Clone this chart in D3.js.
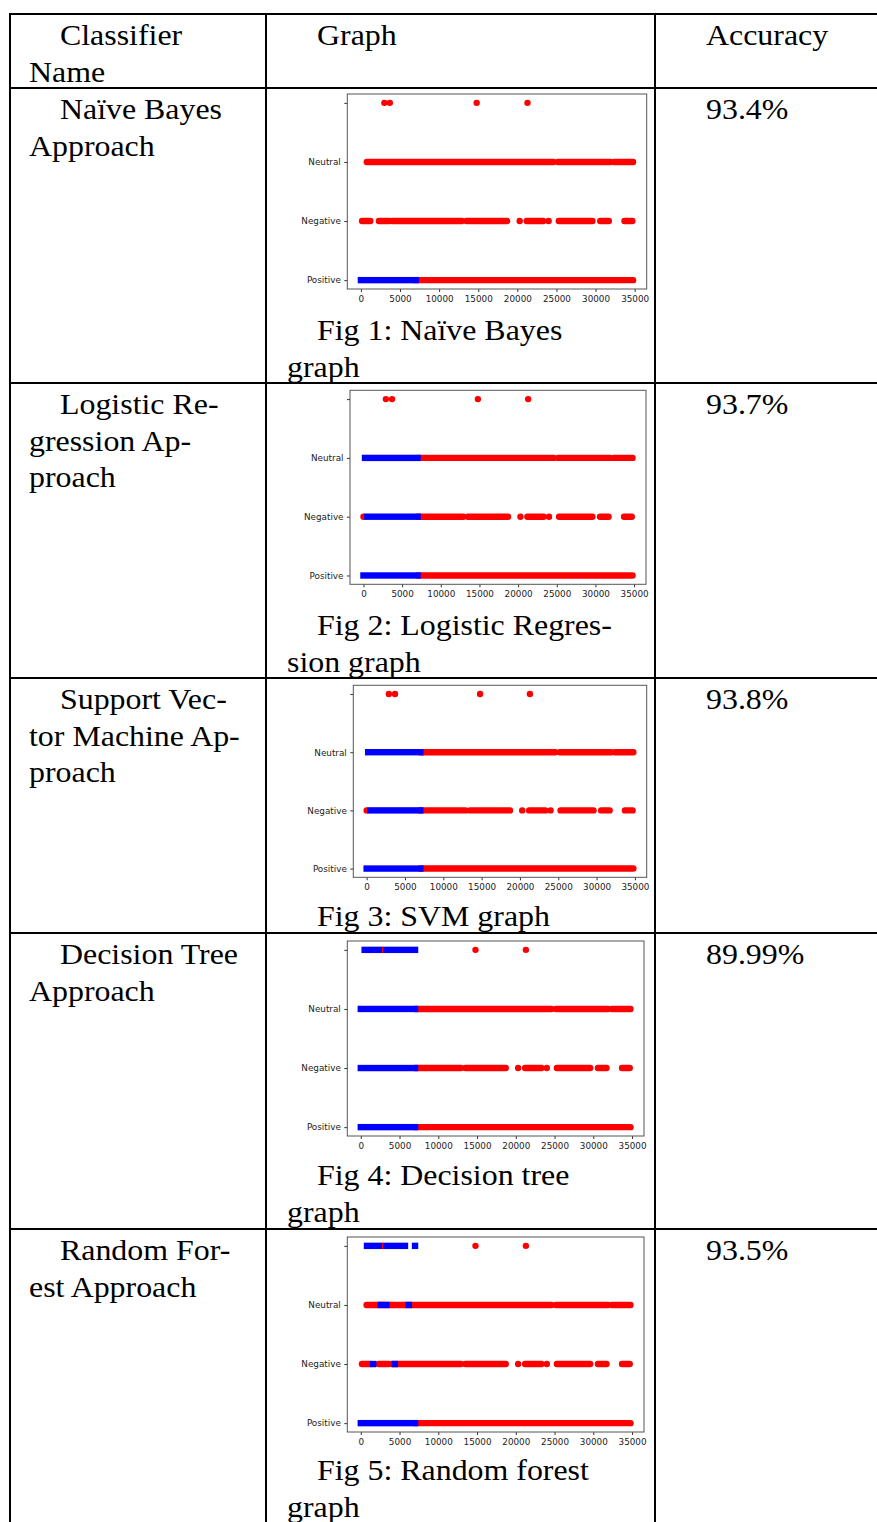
<!DOCTYPE html>
<html>
<head>
<meta charset="utf-8">
<script src="https://cdn.jsdelivr.net/npm/d3@7/dist/d3.min.js"></script>
<style>
  body { margin: 0; background: #fff; }
  svg { display: block; }
</style>
</head>
<body>
<div id="page"></div>
<script>
// ---- table text ----
var headers = ["Classifier|Name", "Graph", "Accuracy"];
var classifierNames = [
  "Naïve Bayes|Approach",
  "Logistic Re-|gression Ap-|proach",
  "Support Vec-|tor Machine Ap-|proach",
  "Decision Tree|Approach",
  "Random For-|est Approach"
];
var captions = [
  "Fig 1: Naïve Bayes|graph",
  "Fig 2: Logistic Regres-|sion graph",
  "Fig 3: SVM graph",
  "Fig 4: Decision tree|graph",
  "Fig 5: Random forest|graph"
];
var accuracies = ["93.4%", "93.7%", "93.8%", "89.99%", "93.5%"];

// ---- chart axes ----
var yCategories = ["Positive", "Negative", "Neutral", ""];
var xTicks = [0, 5000, 10000, 15000, 20000, 25000, 30000, 35000];

// ---- point runs: [category, first x, last x] ----
var nbRed = [
  ["", 3000, 3000], ["", 3700, 3700], ["", 14800, 14800], ["", 21300, 21300],
  ["Neutral", 750, 24600], ["Neutral", 25200, 31900], ["Neutral", 32400, 34800],
  ["Negative", 150, 1200], ["Negative", 2300, 3600], ["Negative", 4000, 12900],
  ["Negative", 13500, 18700], ["Negative", 20300, 20300], ["Negative", 21200, 23300],
  ["Negative", 24000, 24000], ["Negative", 25300, 29600], ["Negative", 30600, 31700],
  ["Negative", 33700, 34700],
  ["Positive", 7000, 34800]
];
var nbBlue = [["Positive", 0, 7000]];

var lrRed = [
  ["", 2900, 2900], ["", 3700, 3700], ["", 14800, 14800], ["", 21300, 21300],
  ["Neutral", 7000, 24600], ["Neutral", 25200, 31900], ["Neutral", 32400, 34800],
  ["Negative", 0, 0], ["Negative", 7000, 12900], ["Negative", 13500, 18700],
  ["Negative", 20300, 20300], ["Negative", 21200, 23300], ["Negative", 24000, 24000],
  ["Negative", 25300, 29600], ["Negative", 30600, 31700], ["Negative", 33700, 34700],
  ["Positive", 7000, 34800]
];
var lrBlue = [["Neutral", 200, 7000], ["Negative", 500, 7000], ["Positive", 0, 7000]];

var svmRed = [
  ["", 2900, 2900], ["", 3700, 3700], ["", 14800, 14800], ["", 21300, 21300],
  ["Neutral", 7000, 24600], ["Neutral", 25200, 31900], ["Neutral", 32400, 34800],
  ["Negative", 0, 0], ["Negative", 7000, 12900], ["Negative", 13500, 18700],
  ["Negative", 20300, 20300], ["Negative", 21200, 23300], ["Negative", 24000, 24000],
  ["Negative", 25300, 29600], ["Negative", 30600, 31700], ["Negative", 33700, 34700],
  ["Positive", 7000, 34800]
];
var svmBlue = [["Neutral", 200, 7000], ["Negative", 500, 7000], ["Positive", 0, 7000]];

var dtRed = [
  ["", 14800, 14800], ["", 21300, 21300],
  ["Neutral", 7000, 24600], ["Neutral", 25200, 31900], ["Neutral", 32400, 34800],
  ["Negative", 7000, 12900], ["Negative", 13500, 18700], ["Negative", 20300, 20300],
  ["Negative", 21200, 23300], ["Negative", 24000, 24000], ["Negative", 25300, 29600],
  ["Negative", 30600, 31700], ["Negative", 33700, 34700],
  ["Positive", 7000, 34800]
];
var dtBlue = [["", 500, 7000], ["Neutral", 0, 7000], ["Negative", 0, 7000], ["Positive", 0, 7000]];
var dtRedOnTop = [["", 2800]];

var rfRed = [
  ["", 14800, 14800], ["", 21300, 21300],
  ["Neutral", 750, 24600], ["Neutral", 25200, 31900], ["Neutral", 32400, 34800],
  ["Negative", 150, 1200], ["Negative", 2300, 3600], ["Negative", 4000, 12900],
  ["Negative", 13500, 18700], ["Negative", 20300, 20300], ["Negative", 21200, 23300],
  ["Negative", 24000, 24000], ["Negative", 25300, 29600], ["Negative", 30600, 31700],
  ["Negative", 33700, 34700],
  ["Positive", 7000, 34800]
];
var rfBlue = [
  ["", 800, 5700], ["", 7000, 7000],
  ["Neutral", 2600, 3300], ["Neutral", 6200, 6200],
  ["Negative", 1600, 1600], ["Negative", 4400, 4400],
  ["Positive", 0, 7000]
];
var rfRedOnTop = [["", 2800]];

var chartData = [
  { red: nbRed, blue: nbBlue, ticks: [] },
  { red: lrRed, blue: lrBlue, ticks: [] },
  { red: svmRed, blue: svmBlue, ticks: [] },
  { red: dtRed, blue: dtBlue, ticks: dtRedOnTop },
  { red: rfRed, blue: rfBlue, ticks: rfRedOnTop }
];

// ---- layout (page pixels) ----
var W = 877, H = 1522;
var colX = [10, 266, 655, 879];
var rowY = [14, 88, 383, 678, 933, 1229];
var frames = [
  { l: 347.3, t: 94,    r: 646.7, b: 289 },
  { l: 350,   t: 390.3, r: 646,   b: 584.3 },
  { l: 353.3, t: 685.3, r: 646.7, b: 877.3 },
  { l: 347.3, t: 941,   r: 644,   b: 1136 },
  { l: 347.3, t: 1237,  r: 644,   b: 1432 }
];
var lineGap = 36.7, firstBase = 31, captionBase = [340, 635, 926, 1185, 1480];
var dotR = 3.2;

var svg = d3.select("#page").append("svg")
    .attr("width", W)
    .attr("height", H);

svg.append("rect").attr("width", W).attr("height", H).attr("fill", "#fff");

function serifLines(x0, x1, base, str) {
  str.split("|").forEach(function (s, i) {
    svg.append("text")
      .attr("transform", "translate(" + (i === 0 ? x0 : x1) + "," + (base + i * lineGap) + ") scale(1.1,1)")
      .attr("font-family", "'Liberation Serif', 'Times New Roman', serif")
      .attr("font-size", "29px")
      .attr("fill", "#000")
      .text(s);
  });
}

// header + rows text
serifLines(60, 29, rowY[0] + firstBase, headers[0]);
serifLines(317, 317, rowY[0] + firstBase, headers[1]);
serifLines(706, 706, rowY[0] + firstBase, headers[2]);
classifierNames.forEach(function (n, i) {
  serifLines(60, 29, rowY[i + 1] + firstBase, n);
  serifLines(706, 706, rowY[i + 1] + firstBase, accuracies[i]);
  serifLines(317, 287, captionBase[i], captions[i]);
});

// charts
frames.forEach(function (f, i) {
  var d = chartData[i];
  var x = d3.scaleLinear().domain([-1740, 36540]).range([f.l, f.r]);
  var y = d3.scaleLinear().domain([-0.15, 3.15]).range([f.b, f.t]);
  var yv = function (c) { return y(yCategories.indexOf(c)); };
  var g = svg.append("g");

  g.selectAll(".red").data(d.red).enter().append("rect")
    .attr("class", "red")
    .attr("x", function (p) { return x(p[1]) - dotR; })
    .attr("y", function (p) { return yv(p[0]) - dotR; })
    .attr("width", function (p) { return x(p[2]) - x(p[1]) + 2 * dotR; })
    .attr("height", 2 * dotR)
    .attr("rx", dotR).attr("ry", dotR)
    .attr("fill", "#ff0000");

  g.selectAll(".blue").data(d.blue).enter().append("rect")
    .attr("class", "blue")
    .attr("x", function (p) { return x(p[1]) - dotR; })
    .attr("y", function (p) { return yv(p[0]) - dotR; })
    .attr("width", function (p) { return x(p[2]) - x(p[1]) + 2 * dotR; })
    .attr("height", 2 * dotR)
    .attr("fill", "#0000ff");

  g.selectAll(".tk").data(d.ticks).enter().append("rect")
    .attr("class", "tk")
    .attr("x", function (p) { return x(p[1]) - 0.5; })
    .attr("y", function (p) { return yv(p[0]) - dotR; })
    .attr("width", 1)
    .attr("height", 2 * dotR)
    .attr("fill", "#ff0000");

  var ax = g.append("g")
    .attr("transform", "translate(0," + f.b + ")")
    .call(d3.axisBottom(x).tickValues(xTicks).tickFormat(d3.format("d")).tickSize(3).tickSizeOuter(0).tickPadding(3.5));
  var ay = g.append("g")
    .attr("transform", "translate(" + f.l + ",0)")
    .call(d3.axisLeft(y).tickValues([0, 1, 2, 3]).tickFormat(function (v) { return yCategories[v]; }).tickSize(3).tickSizeOuter(0).tickPadding(3.5));
  [ax, ay].forEach(function (a) {
    a.select(".domain").remove();
    a.selectAll("line").attr("stroke", "#333");
    a.selectAll("text")
      .attr("font-family", "'DejaVu Sans', sans-serif")
      .attr("font-size", "8.8px")
      .attr("fill", "#222");
  });

  g.append("rect")
    .attr("x", f.l).attr("y", f.t)
    .attr("width", f.r - f.l).attr("height", f.b - f.t)
    .attr("fill", "none")
    .attr("stroke", "#555")
    .attr("stroke-width", 1);
});

// table rules
var rule = svg.append("g").attr("stroke", "#000").attr("stroke-width", 2);
rowY.forEach(function (yy) {
  rule.append("line").attr("x1", colX[0] - 1).attr("x2", W).attr("y1", yy).attr("y2", yy);
});
colX.forEach(function (xx) {
  rule.append("line").attr("x1", xx).attr("x2", xx).attr("y1", rowY[0] - 1).attr("y2", H);
});
</script>
</body>
</html>
